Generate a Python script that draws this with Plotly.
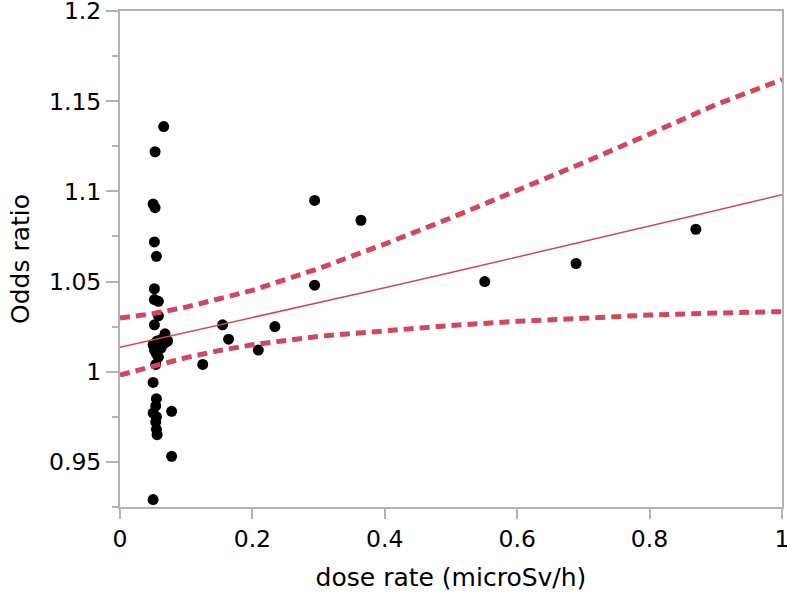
import plotly.graph_objects as go

# Observed points: dose rate (microSv/h) vs odds ratio
dose = [0.066, 0.053, 0.050, 0.053, 0.052, 0.055, 0.052, 0.052, 0.058, 0.058,
        0.052, 0.068, 0.063, 0.056, 0.050, 0.058, 0.068, 0.072, 0.052, 0.062,
        0.055, 0.058, 0.054, 0.050, 0.055, 0.054, 0.050, 0.055, 0.054, 0.055,
        0.056, 0.078, 0.078, 0.050,
        0.125, 0.155, 0.164, 0.209, 0.234, 0.294, 0.294, 0.364, 0.551, 0.689, 0.870]
odds = [1.136, 1.122, 1.093, 1.091, 1.072, 1.064, 1.046, 1.040, 1.039, 1.031,
        1.026, 1.021, 1.018, 1.017, 1.015, 1.014, 1.016, 1.017, 1.012, 1.013,
        1.010, 1.008, 1.004, 0.994, 0.985, 0.981, 0.977, 0.975, 0.972, 0.968,
        0.965, 0.978, 0.953, 0.929,
        1.004, 1.026, 1.018, 1.012, 1.025, 1.095, 1.048, 1.084, 1.050, 1.060, 1.079]

# Fitted line and confidence band
fit_x = [0.0, 0.05, 0.1, 0.15, 0.2, 0.3, 0.4, 0.5, 0.6, 0.7, 0.8, 0.9, 1.0]
fit_mid = [1.0135, 1.0176, 1.0217, 1.0258, 1.0299, 1.0382, 1.0466, 1.0550,
           1.0635, 1.0721, 1.0807, 1.0894, 1.0982]
fit_up = [1.0297, 1.0322, 1.0358, 1.0401, 1.0451, 1.0572, 1.0708, 1.0853,
          1.1004, 1.1159, 1.1318, 1.1481, 1.1620]
fit_lo = [0.9981, 1.0031, 1.0078, 1.0117, 1.0149, 1.0196, 1.0229, 1.0256,
          1.0279, 1.0299, 1.0314, 1.0325, 1.0333]

x_ticks = [0, 0.2, 0.4, 0.6, 0.8, 1]
x_ticktext = ["0", "0.2", "0.4", "0.6", "0.8", "1"]
y_ticks = [0.95, 1.0, 1.05, 1.1, 1.15, 1.2]
y_ticktext = ["0.95", "1", "1.05", "1.1", "1.15", "1.2"]

RED = "#D0485A"
FONT = "DejaVu Sans"
GRAY = "#b3b3b3"

fig = go.Figure()
fig.add_trace(go.Scatter(x=dose, y=odds, mode="markers",
                         marker=dict(color="black", size=11), showlegend=False))
fig.add_trace(go.Scatter(x=fit_x, y=fit_up, mode="lines",
                         line=dict(color=RED, width=5, dash="10px,6px"), showlegend=False))
fig.add_trace(go.Scatter(x=fit_x, y=fit_lo, mode="lines",
                         line=dict(color=RED, width=5, dash="10px,6px"), showlegend=False))
fig.add_trace(go.Scatter(x=fit_x, y=fit_mid, mode="lines",
                         line=dict(color=RED, width=1.5), showlegend=False))

fig.update_layout(
    width=787, height=593,
    margin=dict(l=120, r=5, t=11, b=86),
    paper_bgcolor="white", plot_bgcolor="white",
    font=dict(family=FONT, size=23, color="black"),
)
fig.update_xaxes(
    range=[0, 1.0001], tickvals=x_ticks, ticktext=x_ticktext,
    showgrid=False, zeroline=False,
    showline=True, linecolor=GRAY, linewidth=2, mirror=True,
    ticks="outside", ticklen=10, tickwidth=1.5, tickcolor=GRAY,
    tickfont=dict(family=FONT, size=23.5), ticklabeloverflow="allow",
    title=dict(text="dose rate (microSv/h)", font=dict(family=FONT, size=25), standoff=16),
    automargin=False,
)
fig.update_yaxes(
    range=[0.9249, 1.2001], tickvals=y_ticks, ticktext=y_ticktext,
    showgrid=False, zeroline=False,
    showline=True, linecolor=GRAY, linewidth=2, mirror=True,
    ticks="outside", ticklen=12, tickwidth=1.5, tickcolor=GRAY,
    minor=dict(tickvals=[0.925, 0.975, 1.025, 1.075, 1.125, 1.175],
               ticks="outside", ticklen=6, tickcolor=GRAY, tickwidth=1.5),
    tickfont=dict(family=FONT, size=23.5), ticklabeloverflow="allow",
    title=dict(text="Odds ratio", font=dict(family=FONT, size=25), standoff=12),
    automargin=False,
)

fig.write_html("out.html", config={"displayModeBar": False},
               post_script="document.body.style.margin='0';")
